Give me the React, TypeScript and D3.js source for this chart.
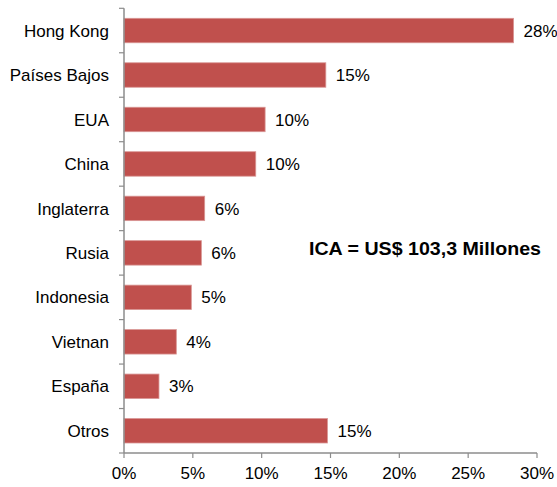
import React from "react";
import * as d3 from "d3";

const categories = ["Hong Kong", "Países Bajos", "EUA", "China", "Inglaterra", "Rusia", "Indonesia", "Vietnan", "España", "Otros"];
const shares = [28.3, 14.66, 10.25, 9.57, 5.86, 5.62, 4.89, 3.8, 2.54, 14.78];
const xTicks = [0, 5, 10, 15, 20, 25, 30];
const note = "ICA = US$ 103,3 Millones";

const W = 557;
const H = 487;
const left = 124;
const right = 537;
const top = 8.3;
const bottom = 453;
const FONT = "'Liberation Sans', Arial, sans-serif";

export default function App() {
  const x = d3.scaleLinear().domain([0, 30]).range([left, right]);
  const y = d3.scaleBand<string>().domain(categories).range([top, bottom]).paddingInner(0.45).paddingOuter(0.225);
  const step = y.step();
  const boundaries = d3.range(categories.length + 1).map((i) => top + i * step);
  const axisColor = "#8c8c8c";

  return (
    <svg width={W} height={H} style={{ position: "absolute", left: 0, top: 0, background: "#fff" }} fontFamily={FONT}>
      {categories.map((c, i) => (
        <g key={c}>
          <rect x={x(0)} y={y(c)!} width={x(shares[i]) - x(0)} height={y.bandwidth()} fill="#C0504D" stroke="#d99694" strokeWidth={0.8} />
          <text x={x(shares[i]) + 10} y={y(c)! + y.bandwidth() / 2} dy="0.36em" fontSize={17} fill="#000">
            {`${Math.round(shares[i])}%`}
          </text>
          <text x={109} y={y(c)! + y.bandwidth() / 2} dy="0.36em" fontSize={17} textAnchor="end" fill="#000">
            {c}
          </text>
        </g>
      ))}
      <line x1={left} x2={left} y1={top} y2={bottom} stroke={axisColor} strokeWidth={1.5} />
      {boundaries.map((b, i) => (
        <line key={i} x1={left - 5} x2={left} y1={b} y2={b} stroke={axisColor} strokeWidth={1.2} />
      ))}
      <line x1={left} x2={right} y1={bottom} y2={bottom} stroke={axisColor} strokeWidth={1.5} />
      {xTicks.map((t) => (
        <g key={t}>
          <line x1={x(t)} x2={x(t)} y1={bottom} y2={bottom + 5} stroke={axisColor} strokeWidth={1.2} />
          <text x={x(t)} y={479} textAnchor="middle" fontSize={17} fill="#000">{`${t}%`}</text>
        </g>
      ))}
      <text x={309} y={255} fontSize={19} fontWeight="bold" fill="#000" textLength={232} lengthAdjust="spacingAndGlyphs">
        {note}
      </text>
    </svg>
  );
}
